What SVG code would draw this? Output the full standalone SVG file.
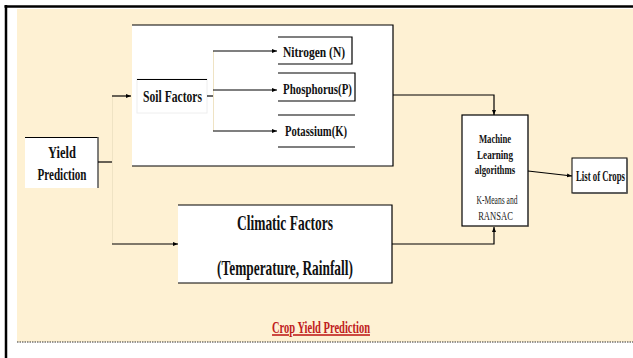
<svg xmlns="http://www.w3.org/2000/svg" width="633" height="358" viewBox="0 0 633 358">
  <defs>
    <marker id="arr" viewBox="0 0 10 10" refX="10" refY="5" markerWidth="5" markerHeight="5" orient="auto" markerUnits="userSpaceOnUse">
      <path d="M0,1 L10,5 L0,9 z" fill="#000"/>
    </marker>
  </defs>
  <style>
    .t { font-family: "Liberation Serif", "Times New Roman", serif; fill: #111; text-anchor: middle; }
    .b { font-weight: bold; }
    .r { fill: #222; }
    .ln { stroke: #000; stroke-width: 1.2; fill: none; }
    .faint { stroke: #efe3c4; stroke-width: 1; fill: none; }
    .box { fill: #fff; }
  </style>
  <rect x="0" y="0" width="633" height="358" fill="#fff"/>
  <rect x="17" y="9" width="616" height="333" fill="#fef1d3"/>
  <line x1="4.5" y1="6.5" x2="633" y2="6.5" stroke="#000" stroke-width="2.5"/>
  <line x1="6" y1="5" x2="6" y2="358" stroke="#000" stroke-width="2.5"/>
  <line x1="17" y1="342" x2="633" y2="342" stroke="#333" stroke-width="1" stroke-dasharray="1.5,1"/>

  <g id="soil-group">
    <rect class="box" x="132" y="25" width="261" height="141"/>
    <polyline class="ln" points="132,25 393,25 393,166 132,166"/>
  </g>

  <g id="yield">
    <rect class="box" x="25" y="137" width="73" height="51"/>
    <line x1="25" y1="137.5" x2="98" y2="137.5" stroke="#000" stroke-width="1.2"/>
    <line x1="98" y1="137" x2="98" y2="188" stroke="#555" stroke-width="1.5"/>
    <text class="t b" transform="translate(62,158) scale(0.62,1)" font-size="16" textLength="45" lengthAdjust="spacingAndGlyphs">Yield</text>
    <text class="t b" transform="translate(62,180) scale(0.62,1)" font-size="16" textLength="79" lengthAdjust="spacingAndGlyphs">Prediction</text>
  </g>

  <g id="soil-factors">
    <rect x="137" y="79" width="70" height="34" fill="#fff" stroke="#eee" stroke-width="1"/>
    <line x1="137" y1="79.5" x2="207" y2="79.5" stroke="#000" stroke-width="1"/>
    <text class="t b" transform="translate(172.5,102) scale(0.62,1)" font-size="17" textLength="95" lengthAdjust="spacingAndGlyphs">Soil Factors</text>
  </g>

  <g id="nitrogen">
    <rect class="box" x="278" y="37" width="74" height="27"/>
    <polyline class="ln" points="278,37 352,37 352,64 278,64"/>
    <text class="t b" transform="translate(314,57) scale(0.62,1)" font-size="14" textLength="100" lengthAdjust="spacingAndGlyphs">Nitrogen (N)</text>
  </g>

  <g id="phosphorus">
    <rect class="box" x="278" y="73" width="77" height="28"/>
    <polyline class="ln" points="278,73 355,73 355,101 278,101"/>
    <text class="t b" transform="translate(317.5,94) scale(0.62,1)" font-size="15" textLength="111" lengthAdjust="spacingAndGlyphs">Phosphorus(P)</text>
  </g>

  <g id="potassium">
    <rect class="box" x="278" y="115" width="77" height="32"/>
    <line class="ln" x1="278" y1="115" x2="355" y2="115"/>
    <line class="ln" x1="278" y1="147" x2="355" y2="147"/>
    <text class="t b" transform="translate(316,136) scale(0.62,1)" font-size="15" textLength="100" lengthAdjust="spacingAndGlyphs">Potassium(K)</text>
  </g>

  <g id="climatic">
    <rect class="box" x="178" y="205" width="214" height="78"/>
    <polyline class="ln" points="178,205 392,205 392,283 178,283"/>
    <text class="t b" transform="translate(285,230) scale(0.62,1)" font-size="21" textLength="155" lengthAdjust="spacingAndGlyphs">Climatic Factors</text>
    <text class="t b" transform="translate(285,275) scale(0.62,1)" font-size="21" textLength="219" lengthAdjust="spacingAndGlyphs">(Temperature, Rainfall)</text>
  </g>

  <g id="ml">
    <rect x="462" y="115" width="66" height="111" fill="#fff" stroke="#000" stroke-width="1.2"/>
    <line x1="528" y1="116" x2="528" y2="227" stroke="#555" stroke-width="1"/>
    <text class="t b" transform="translate(495,143) scale(0.62,1)" font-size="13.5" textLength="52" lengthAdjust="spacingAndGlyphs">Machine</text>
    <text class="t b" transform="translate(495,158.5) scale(0.62,1)" font-size="13.5" textLength="58" lengthAdjust="spacingAndGlyphs">Learning</text>
    <text class="t b" transform="translate(495,174) scale(0.62,1)" font-size="13.5" textLength="65" lengthAdjust="spacingAndGlyphs">algorithms</text>
    <text class="t r" transform="translate(497,204) scale(0.62,1)" font-size="13.5" textLength="66" lengthAdjust="spacingAndGlyphs">K-Means and</text>
    <text class="t r" transform="translate(495.5,220) scale(0.62,1)" font-size="13.5" textLength="56" lengthAdjust="spacingAndGlyphs">RANSAC</text>
  </g>

  <g id="crops">
    <rect x="572" y="158" width="55" height="35" fill="#fff" stroke="#000" stroke-width="1"/>
    <polyline points="627,159 627,193 573,193" fill="none" stroke="#555" stroke-width="1.5"/>
    <text class="t b" transform="translate(600.5,181) scale(0.62,1)" font-size="15" textLength="79" lengthAdjust="spacingAndGlyphs">List of Crops</text>
  </g>

  <g id="caption">
    <text class="b" transform="translate(321,333) scale(0.62,1)" font-family="Liberation Serif, Times New Roman, serif" font-size="16" fill="#c0201c" text-anchor="middle" text-decoration="underline" textLength="158" lengthAdjust="spacingAndGlyphs">Crop Yield Prediction</text>
  </g>

  <g id="connectors">
    <line class="faint" x1="112.5" y1="96" x2="112.5" y2="244"/>
    <line class="faint" x1="213.5" y1="51" x2="213.5" y2="131"/>
    <line class="ln" x1="98" y1="162" x2="112" y2="162"/>
    <line class="ln" x1="112" y1="96" x2="131" y2="96" marker-end="url(#arr)"/>
    <line class="ln" x1="112" y1="244" x2="178" y2="244" marker-end="url(#arr)"/>
    <line class="ln" x1="207" y1="96" x2="213" y2="96"/>
    <line class="ln" x1="213" y1="51" x2="277" y2="51" marker-end="url(#arr)"/>
    <line class="ln" x1="213" y1="90" x2="277" y2="90" marker-end="url(#arr)"/>
    <line class="ln" x1="213" y1="131" x2="277" y2="131" marker-end="url(#arr)"/>
    <polyline class="ln" points="393,95 494,95 494,115" marker-end="url(#arr)"/>
    <polyline class="ln" points="392,244 494,244 494,227" marker-end="url(#arr)"/>
    <line class="ln" x1="528" y1="171" x2="572" y2="176" marker-end="url(#arr)"/>
  </g>
</svg>
